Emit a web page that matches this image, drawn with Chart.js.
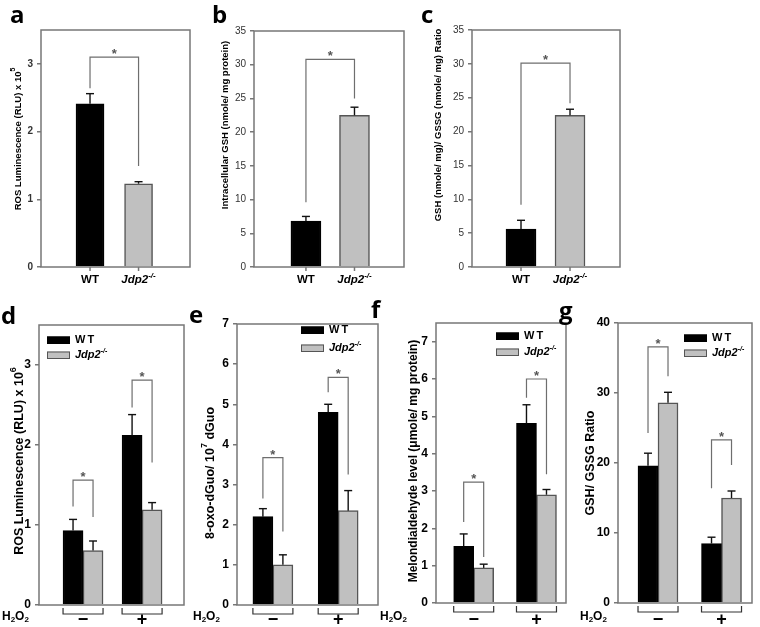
<!DOCTYPE html>
<html>
<head>
<meta charset="utf-8">
<script src="https://cdn.jsdelivr.net/npm/chart.js@4"></script>
<style>
  html, body { margin: 0; padding: 0; background: #fff; }
  #wrap { position: relative; width: 760px; height: 627px; overflow: hidden; }
  #wrap canvas { position: absolute; left: 0; top: 0; }
  .lbl { position: absolute; font-family: 'Open Sans', sans-serif; font-weight: 700; font-size: 24px; line-height: 24px; color: #000; }
</style>
</head>
<body>
<div id="wrap">
  <canvas id="pa" width="760" height="627"></canvas>
  <canvas id="pb" width="760" height="627"></canvas>
  <canvas id="pc" width="760" height="627"></canvas>
  <canvas id="pd" width="760" height="627"></canvas>
  <canvas id="pe" width="760" height="627"></canvas>
  <canvas id="pf" width="760" height="627"></canvas>
  <canvas id="pg" width="760" height="627"></canvas>
  <div class="lbl" style="left:10px;top:2px">a</div>
  <div class="lbl" style="left:212px;top:2px">b</div>
  <div class="lbl" style="left:421px;top:2px">c</div>
  <div class="lbl" style="left:1px;top:303px">d</div>
  <div class="lbl" style="left:189px;top:302px">e</div>
  <div class="lbl" style="left:371px;top:297px">f</div>
  <div class="lbl" style="left:559px;top:298px">g</div>
</div>
<script>
// top row: WT vs Jdp2-/-
const genotypes = ['WT', 'Jdp2-/-'];
const aMeans = [2.41, 1.23];
const aErr = [0.15, 0.03];
const aSig = [3.10, 2.64, 1.49];   // bracket top, left end, right end
const bMeans = [6.8, 22.5];
const bErr = [0.7, 1.2];
const bSig = [30.8, 9.6, 25.0];
const cMeans = [5.6, 22.4];
const cErr = [1.3, 0.9];
const cSig = [30.1, 9.2, 24.2];

// bottom row: H2O2 - / +
const treatments = ['\u2212', '+'];
const dWT = [0.93, 2.12];
const dWTErr = [0.14, 0.26];
const dKO = [0.68, 1.19];
const dKOErr = [0.12, 0.09];
const dSig = [[1.56, 1.23, 1.10], [2.81, 2.47, 1.78]];
const eWT = [2.2, 4.8];
const eWTErr = [0.2, 0.2];
const eKO = [1.0, 2.35];
const eKOErr = [0.25, 0.5];
const eSig = [[3.67, 2.65, 1.83], [5.67, 5.3, 3.25]];
const fWT = [1.52, 4.81];
const fWTErr = [0.33, 0.5];
const fKO = [0.94, 2.9];
const fKOErr = [0.1, 0.14];
const fSig = [[3.24, 2.17, 1.23], [6.0, 5.5, 3.45]];
const gWT = [19.6, 8.5];
const gWTErr = [1.8, 0.9];
const gKO = [28.6, 15.0];
const gKOErr = [1.5, 1.0];
const gSig = [[36.6, 24.3, 32.4], [23.3, 16.4, 19.7]];

const FONT = "'Liberation Sans', Arial, sans-serif";
const AXIS = '#777';
const BRACKET = '#6e6e6e';
const GREY = '#c0c0c0';
const GREY_EDGE = '#555';
const Y_W = 40;

const ko = (size) => [
    { t: 'Jdp2', font: `italic bold ${size}px ${FONT}` },
    { t: '-/-', font: `italic bold ${Math.round(size * 0.68)}px ${FONT}`, dy: -size * 0.4 }
];

// draw a run of text pieces with their own fonts / offsets
function rich(ctx, parts, x, y, align) {
    let w = 0;
    parts.forEach(p => { ctx.font = p.font; w += ctx.measureText(p.t).width; });
    let cx = align === 'center' ? x - w / 2 : x;
    parts.forEach(p => {
        ctx.font = p.font;
        ctx.fillText(p.t, cx, y + (p.dy || 0));
        cx += ctx.measureText(p.t).width;
    });
}

function decor(p) {
    return {
        id: 'decor',
        afterDraw(chart) {
            const ctx = chart.ctx, ca = chart.chartArea, ys = chart.scales.y;
            const seg = (x1, y1, x2, y2) => { ctx.beginPath(); ctx.moveTo(x1, y1); ctx.lineTo(x2, y2); ctx.stroke(); };
            const barAt = (k, i) => chart.getDatasetMeta(k).data[i];
            ctx.save();

            // frame
            ctx.strokeStyle = AXIS;
            ctx.lineWidth = 1.5;
            ctx.strokeRect(ca.left, ca.top, ca.right - ca.left, ca.bottom - ca.top);

            // error bars (upper only)
            ctx.strokeStyle = '#111';
            ctx.lineWidth = 1.4;
            chart.data.datasets.forEach((ds, k) => {
                chart.getDatasetMeta(k).data.forEach((bar, i) => {
                    const top = ys.getPixelForValue(ds.data[i].y + p.errs[k][i]);
                    seg(bar.x, bar.y, bar.x, top);
                    seg(bar.x - 4, top, bar.x + 4, top);
                });
            });

            // significance brackets
            ctx.strokeStyle = BRACKET;
            ctx.lineWidth = 1.2;
            ctx.fillStyle = '#555';
            ctx.textAlign = 'center';
            ctx.textBaseline = 'alphabetic';
            p.sig.forEach(s => {
                const x1 = barAt(s.l[0], s.l[1]).x, x2 = barAt(s.r[0], s.r[1]).x;
                const yt = ys.getPixelForValue(s.v[0]);
                ctx.beginPath();
                ctx.moveTo(x1, ys.getPixelForValue(s.v[1]));
                ctx.lineTo(x1, yt);
                ctx.lineTo(x2, yt);
                ctx.lineTo(x2, ys.getPixelForValue(s.v[2]));
                ctx.stroke();
                ctx.font = `bold 13px ${FONT}`;
                ctx.fillText('*', (x1 + x2) / 2, yt + 1);
            });

            ctx.fillStyle = '#000';
            ctx.textBaseline = 'middle';
            if (p.kind === 'single') {
                // x tick marks + genotype labels
                ctx.strokeStyle = AXIS;
                ctx.lineWidth = 1.5;
                const meta = chart.getDatasetMeta(0);
                meta.data.forEach(bar => seg(bar.x, ca.bottom, bar.x, ca.bottom + 4));
                ctx.textAlign = 'left';
                rich(ctx, [{ t: genotypes[0], font: `bold 11.5px ${FONT}` }], meta.data[0].x, 280, 'center');
                rich(ctx, ko(11.5), meta.data[1].x, 280, 'center');
            } else {
                // treatment group brackets under the axis
                ctx.strokeStyle = '#333';
                ctx.lineWidth = 1.2;
                const b = ca.bottom;
                treatments.forEach((t, i) => {
                    const x1 = barAt(0, i).x - p.barW / 2, x2 = barAt(1, i).x + p.barW / 2;
                    ctx.beginPath();
                    ctx.moveTo(x1, b + 3); ctx.lineTo(x1, b + 9); ctx.lineTo(x2, b + 9); ctx.lineTo(x2, b + 3);
                    ctx.stroke();
                    ctx.textAlign = 'center';
                    ctx.font = `bold 18px ${FONT}`;
                    ctx.fillText(t, (x1 + x2) / 2, 620);
                });
                ctx.textAlign = 'left';
                const h = `bold 12px ${FONT}`, sub = `bold 8px ${FONT}`;
                rich(ctx, [{ t: 'H', font: h }, { t: '2', font: sub, dy: 3 }, { t: 'O', font: h }, { t: '2', font: sub, dy: 3 }], p.h2o2X, 617, 'left');

                // legend
                const lx = ca.right + p.legend.dx;
                [[p.legend.y1, '#000', '#000'], [p.legend.y2, GREY, GREY_EDGE]].forEach(([dy, fill, edge]) => {
                    ctx.fillStyle = fill;
                    ctx.fillRect(lx, ca.top + dy - 3.5, 23, 7);
                    ctx.strokeStyle = edge;
                    ctx.lineWidth = 1;
                    ctx.strokeRect(lx + 0.5, ca.top + dy - 3, 22, 6.5);
                });
                ctx.fillStyle = '#000';
                ctx.font = `bold 11px ${FONT}`;
                ctx.letterSpacing = '2px';
                ctx.fillText('WT', lx + 28, ca.top + p.legend.y1);
                ctx.letterSpacing = '0px';
                rich(ctx, ko(11), lx + 28, ca.top + p.legend.y2, 'left');
            }

            // rotated y-axis title
            ctx.translate(p.titleX, p.titleY);
            ctx.rotate(-Math.PI / 2);
            ctx.fillStyle = '#000';
            rich(ctx, p.title, 0, 0, 'center');
            ctx.restore();
        }
    };
}

function makePanel(p) {
    const datasets = p.kind === 'single'
        ? [{
            data: p.values[0].map((v, i) => ({ x: i, y: v })),
            backgroundColor: ['#000', GREY],
            borderColor: ['#000', GREY_EDGE],
            borderWidth: 1.5,
            barThickness: p.barW
        }]
        : p.values.map((vals, k) => ({
            data: vals.map((v, i) => ({ x: i, y: v })),
            backgroundColor: k === 0 ? '#000' : GREY,
            borderColor: k === 0 ? '#000' : GREY_EDGE,
            borderWidth: 1.5,
            barThickness: p.barW
        }));

    new Chart(document.getElementById(p.id), {
        type: 'bar',
        data: { datasets },
        options: {
            responsive: false,
            animation: false,
            layout: { padding: { left: p.area.l - Y_W, top: p.area.t, right: 760 - p.area.r, bottom: 627 - p.area.b } },
            plugins: { legend: { display: false }, tooltip: { enabled: false } },
            scales: {
                x: { type: 'linear', min: p.xMin, max: p.xMax, display: false, offset: false },
                y: {
                    min: 0,
                    max: p.yMax,
                    afterFit: s => { s.width = Y_W; },
                    ticks: { stepSize: p.step, includeBounds: false, padding: 4, color: p.tick.color, font: { family: FONT, size: p.tick.size, weight: p.tick.weight } },
                    grid: { drawOnChartArea: false, drawTicks: true, tickLength: 4, color: AXIS, lineWidth: 1.5 },
                    border: { display: false }
                }
            }
        },
        plugins: [decor(p)]
    });
}

const pairSig = (v) => [{ l: [0, 0], r: [0, 1], v }];
const groupSig = (list) => list.map((v, i) => ({ l: [0, i], r: [1, i], v }));
const topTick = { size: 10, weight: 'bold', color: '#333' };
const botTick = { size: 12, weight: 'bold', color: '#000' };
const tf = (size) => `bold ${size}px ${FONT}`;

document.addEventListener('DOMContentLoaded', () => {
    makePanel({
        id: 'pa', kind: 'single', area: { l: 41, t: 30, r: 190, b: 267 }, xMin: -1.01, xMax: 2.06,
        yMax: 3.5, step: 1, barW: 28, values: [aMeans], errs: [aErr], sig: pairSig(aSig), tick: topTick,
        title: [{ t: 'ROS Luminescence (RLU) x 10', font: tf(9.5) }, { t: '5', font: tf(7), dy: -5 }], titleX: 18, titleY: 139
    });
    makePanel({
        id: 'pb', kind: 'single', area: { l: 254, t: 31, r: 404, b: 267 }, xMin: -1.07, xMax: 2.02,
        yMax: 35, step: 5, barW: 30, values: [bMeans], errs: [bErr], sig: pairSig(bSig), tick: { size: 10, weight: 'normal', color: '#333' },
        title: [{ t: 'Intracellular GSH (nmole/ mg protein)', font: tf(9.5) }], titleX: 225, titleY: 125
    });
    makePanel({
        id: 'pc', kind: 'single', area: { l: 472, t: 30, r: 620, b: 267 }, xMin: -1.0, xMax: 2.02,
        yMax: 35, step: 5, barW: 30, values: [cMeans], errs: [cErr], sig: pairSig(cSig), tick: { size: 10, weight: 'normal', color: '#333' },
        title: [{ t: 'GSH (nmole/ mg)/ GSSG (nmole/ mg) Ratio', font: tf(9.5) }], titleX: 438, titleY: 125
    });
    makePanel({
        id: 'pd', kind: 'group', area: { l: 39, t: 325, r: 184, b: 605 }, xMin: -0.746, xMax: 1.71,
        yMax: 3.5, step: 1, barW: 20, values: [dWT, dKO], errs: [dWTErr, dKOErr], sig: groupSig(dSig), tick: botTick,
        title: [{ t: 'ROS Luminescence (RLU) x 10', font: tf(12.5) }, { t: '6', font: tf(9), dy: -6 }], titleX: 20, titleY: 461,
        h2o2X: 2, legend: { dx: -137, y1: 15, y2: 30 }
    });
    makePanel({
        id: 'pe', kind: 'group', area: { l: 237, t: 324, r: 378, b: 605 }, xMin: -0.55, xMax: 1.61,
        yMax: 7, step: 1, barW: 20, values: [eWT, eKO], errs: [eWTErr, eKOErr], sig: groupSig(eSig), tick: botTick,
        title: [{ t: '8-oxo-dGuo/ 10', font: tf(12.5) }, { t: '7', font: tf(9), dy: -6 }, { t: ' dGuo', font: tf(12.5) }], titleX: 211, titleY: 473,
        h2o2X: 193, legend: { dx: -77, y1: 6, y2: 24 }
    });
    makePanel({
        id: 'pf', kind: 'group', area: { l: 436, t: 323, r: 566, b: 603 }, xMin: -0.6, xMax: 1.47,
        yMax: 7.5, step: 1, barW: 20, values: [fWT, fKO], errs: [fWTErr, fKOErr], sig: groupSig(fSig), tick: botTick,
        title: [{ t: 'Melondialdehyde level (\u03bcmole/ mg protein)', font: tf(12) }], titleX: 414, titleY: 461,
        h2o2X: 380, legend: { dx: -70, y1: 13, y2: 29 }
    });
    makePanel({
        id: 'pg', kind: 'group', area: { l: 618, t: 323, r: 752, b: 603 }, xMin: -0.63, xMax: 1.48,
        yMax: 40, step: 10, barW: 20, values: [gWT, gKO], errs: [gWTErr, gKOErr], sig: groupSig(gSig), tick: botTick,
        title: [{ t: 'GSH/ GSSG Ratio', font: tf(12.5) }], titleX: 591, titleY: 463,
        h2o2X: 580, legend: { dx: -68, y1: 15, y2: 30 }
    });
});
</script>
</body>
</html>
